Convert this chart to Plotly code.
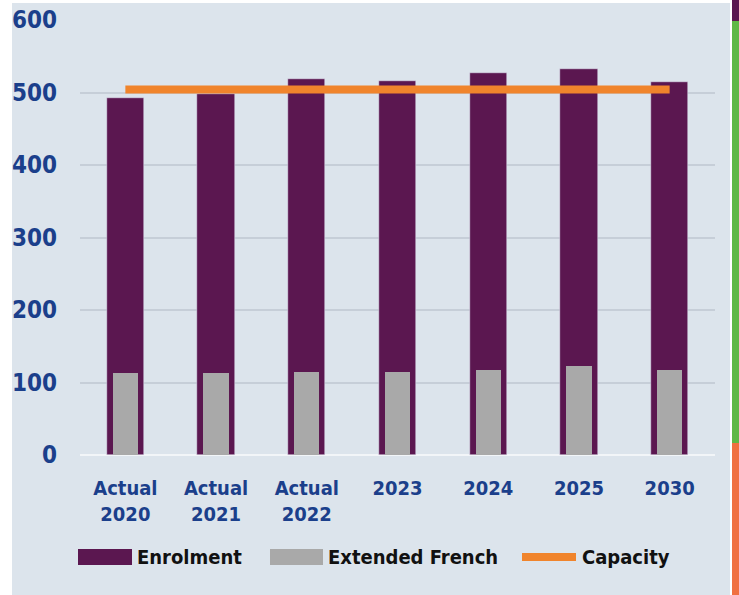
import plotly.graph_objects as go

categories = ["Actual<br>2020", "Actual<br>2021", "Actual<br>2022", "2023", "2024", "2025", "2030"]
enrolment = [493, 498, 519, 516, 527, 533, 515]
extended_french = [113, 113, 114, 114, 117, 123, 117]
capacity = [504, 504, 504, 504, 504, 504, 504]
y_ticks = [0, 100, 200, 300, 400, 500, 600]

PURPLE = "#5b1750"
GREY = "#a9a9a9"
ORANGE = "#f0842c"
BG = "#dce4ec"
TICK_BLUE = "#1b3f8b"
FONT = "DejaVu Sans Condensed, Liberation Sans"

W, H = 739, 595
L, R, T, B = 80, 24, 20, 140
PW, PH = W - L - R, H - T - B

def px(x):
    return (x - L) / PW

def py(y):
    return (H - B - y) / PH

fig = go.Figure()
fig.add_trace(go.Bar(x=categories, y=enrolment, name="Enrolment", marker_color=PURPLE,
                     width=0.41, showlegend=False))
fig.add_trace(go.Bar(x=categories, y=extended_french, name="Extended French",
                     marker=dict(color=GREY, line=dict(width=0)), width=0.28, showlegend=False))
fig.add_trace(go.Scatter(x=categories, y=capacity, name="Capacity", mode="lines",
                         line=dict(color=ORANGE, width=8), showlegend=False))

shapes = []
annotations = []
# page border / stripes
shapes.append(dict(type="rect", xref="paper", yref="paper", x0=px(0), x1=px(12), y0=py(H), y1=py(0),
                   fillcolor="#ffffff", line_width=0, layer="below"))
shapes.append(dict(type="rect", xref="paper", yref="paper", x0=px(0), x1=px(W), y0=py(3), y1=py(0),
                   fillcolor="#ffffff", line_width=0, layer="below"))
shapes.append(dict(type="rect", xref="paper", yref="paper", x0=px(730), x1=px(W), y0=py(H), y1=py(0),
                   fillcolor="#ffffff", line_width=0, layer="below"))
shapes.append(dict(type="rect", xref="paper", yref="paper", x0=px(732), x1=px(W), y0=py(21), y1=py(0),
                   fillcolor="#5b1750", line_width=0))
shapes.append(dict(type="rect", xref="paper", yref="paper", x0=px(732), x1=px(W), y0=py(443), y1=py(21),
                   fillcolor="#5fb846", line_width=0))
shapes.append(dict(type="rect", xref="paper", yref="paper", x0=px(732), x1=px(W), y0=py(H), y1=py(443),
                   fillcolor="#f07040", line_width=0))

# custom legend
leg_y = 557
shapes.append(dict(type="rect", xref="paper", yref="paper", x0=px(78), x1=px(132), y0=py(565), y1=py(549),
                   fillcolor=PURPLE, line_width=0))
shapes.append(dict(type="rect", xref="paper", yref="paper", x0=px(270), x1=px(323), y0=py(565), y1=py(549),
                   fillcolor=GREY, line_width=0))
shapes.append(dict(type="line", xref="paper", yref="paper", x0=px(522), x1=px(576), y0=py(leg_y), y1=py(leg_y),
                   line=dict(color=ORANGE, width=8)))
for label, x in [("Enrolment", 135), ("Extended French", 326), ("Capacity", 580)]:
    annotations.append(dict(text=label, xref="paper", yref="paper", x=px(x), y=py(leg_y),
                            xanchor="left", yanchor="middle", showarrow=False,
                            font=dict(family=FONT, size=20, color="#111111", weight="bold")))

fig.update_layout(
    width=W, height=H,
    margin=dict(l=L, r=R, t=T, b=B, autoexpand=False),
    paper_bgcolor=BG, plot_bgcolor=BG,
    barmode="overlay", bargap=0,
    shapes=shapes, annotations=annotations,
    xaxis=dict(showgrid=False, zeroline=False, showline=False, ticks="",
               tickfont=dict(family=FONT, size=20, color=TICK_BLUE, weight="bold"),
               ticklabelstandoff=19),
    yaxis=dict(range=[0, 600], tickvals=y_ticks, showgrid=True, gridcolor="#c6ced8", gridwidth=2,
               zeroline=True, zerolinecolor="#f2f5f8", zerolinewidth=2, ticks="",
               tickfont=dict(family=FONT, size=24, color=TICK_BLUE, weight="bold"),
               ticklabelstandoff=22),
)

fig.write_html("out.html", config={"displayModeBar": False},
               post_script="document.body.style.margin='0';")
